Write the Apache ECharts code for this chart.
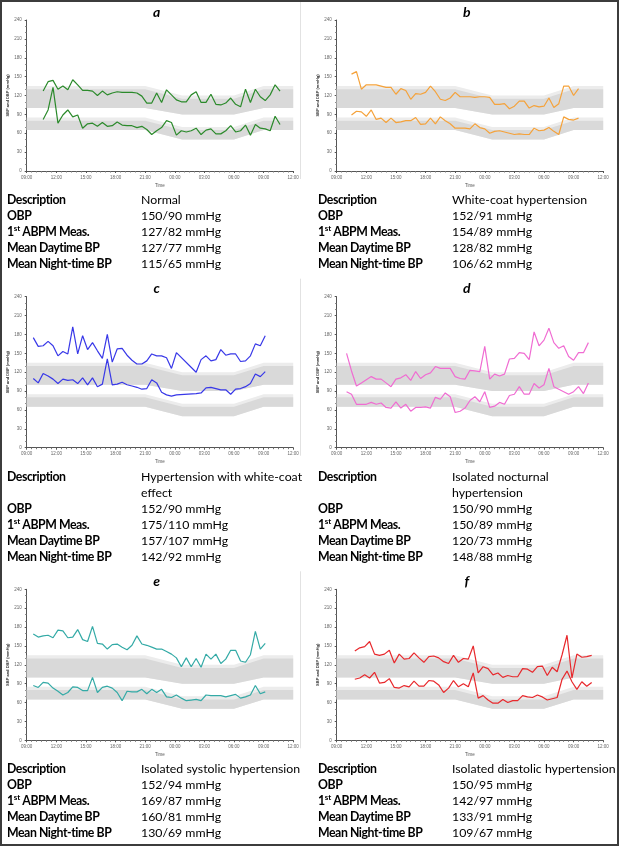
<!DOCTYPE html>
<html>
<head>
<meta charset="utf-8">
<script src="https://cdn.jsdelivr.net/npm/echarts@6/dist/echarts.min.js"></script>
<style>
  html, body { margin: 0; padding: 0; background: #fff; }
  #page { position: relative; width: 619px; height: 846px; overflow: hidden; font-family: Lato, 'Open Sans', sans-serif; }
  #chart { position: absolute; left: 0; top: 0; width: 619px; height: 846px; }
  #frame { position: absolute; left: 0; top: 0; width: 615px; height: 842px; border: 2px solid #3c3c3c; pointer-events: none; }
  .tbl { position: absolute; font-size: 12.3px; line-height: 16px; color: #000; }
  .tbl .r { display: flex; }
  .tbl .k { width: 134px; font-weight: bold; white-space: nowrap; letter-spacing: -0.45px; }
  .tbl .v { white-space: pre; }
  .tbl sup { font-size: 8px; line-height: 0; vertical-align: 5px; letter-spacing: 0; }
</style>
</head>
<body>
<div id="page">
  <div id="chart"></div>
  <div id="frame"></div>
</div>
<script>
// measurement times (30 min apart, rolling over midnight)
const aTimes = ['10:40','11:10','11:40','12:10','12:40','13:10','13:40','14:10','14:40','15:10',
  '15:40','16:10','16:40','17:10','17:40','18:10','18:40','19:10','19:40','20:10',
  '20:40','21:10','21:40','22:10','22:40','23:10','23:40','00:10','00:40','01:10',
  '01:40','02:10','02:40','03:10','03:40','04:10','04:40','05:10','05:40','06:10',
  '06:40','07:10','07:40','08:10','08:40','09:10','09:40','10:10','10:40'];
const aSys = [127,142,144,130,135,129,145,137,128,128,127,120,127,121,124,126,125,125,125,124,
  119,108,108,124,109,129,121,113,110,110,121,126,109,109,122,106,105,108,116,106,
  102,130,109,130,118,112,121,137,127];
const aDia = [82,97,133,76,89,97,86,89,68,75,76,71,77,71,72,78,73,72,72,69,
  71,66,58,64,69,80,77,57,64,62,64,68,58,65,67,59,59,64,72,62,
  64,73,57,74,68,67,64,87,74];

const bTimes = ['10:30','11:00','11:30','12:00','12:30','13:00','13:30','14:00','14:30','15:00',
  '15:30','16:00','16:30','17:00','17:30','18:00','18:30','19:00','19:30','20:00',
  '20:30','21:00','21:30','22:00','22:30','23:00','23:30','00:00','00:30','01:00',
  '01:30','02:00','02:30','03:00','03:30','04:00','04:30','05:00','05:30','06:00',
  '06:30','07:00','07:30','08:00','08:30','09:00','09:30'];
const bSys = [154,158,130,137,137,137,135,133,133,122,131,128,114,123,122,125,135,126,114,112,
  116,125,118,118,118,117,118,118,117,106,106,107,99,103,111,111,100,104,102,103,
  116,101,107,135,135,120,131];
const bDia = [89,95,94,87,97,82,84,77,84,77,78,80,80,85,74,75,84,75,86,80,
  75,68,68,68,67,75,69,67,60,63,64,62,60,58,59,58,58,68,64,65,
  69,63,58,86,82,81,84];

const cTimes = ['09:40','10:10','10:40','11:10','11:40','12:10','12:40','13:10','13:40','14:10',
  '14:40','15:10','15:40','16:10','16:40','17:10','17:40','18:10','18:40','19:10',
  '19:40','20:10','20:40','21:10','21:40','22:10','22:40','23:10','23:40','00:10',
  '02:10','02:40','03:10','03:40','04:10','04:40','05:10','05:40','06:10','06:40',
  '07:10','07:40','08:10','08:40','09:10'];
const cSys = [175,161,162,169,162,146,153,149,192,149,178,156,167,154,142,180,136,157,158,147,
  139,133,133,138,149,146,146,143,126,151,
  120,140,146,138,140,156,147,149,149,137,138,146,165,162,178];
const cDia = [110,103,118,114,109,102,109,107,108,102,111,100,111,97,101,141,100,101,104,100,
  98,96,93,94,108,103,88,84,82,84,
  86,87,95,96,94,92,92,85,93,94,97,102,117,113,121];

const dTimes = ['10:00','10:30','11:00','11:30','12:00','12:30','13:00','13:30','14:00','14:30',
  '15:00','15:30','16:00','16:30','17:00','17:30','18:00','18:30','19:00','19:30',
  '20:00','20:30','21:00','21:30','22:00','22:30','23:00','23:30','00:00','00:30',
  '01:00','01:30','02:00','02:30','03:00','03:30','04:00','04:30','05:00','05:30',
  '06:00','06:30','07:00','07:30','08:00','08:30','09:00','09:30','10:00','10:30'];
const dSys = [150,122,98,103,108,113,109,109,103,97,109,111,116,107,121,110,116,119,129,126,
  126,126,113,110,109,123,122,121,161,109,117,114,117,141,142,151,150,140,184,162,
  171,190,167,158,162,145,139,151,151,167];
const dDia = [89,85,69,69,69,72,69,71,64,63,73,63,69,58,64,64,65,63,80,77,
  87,81,56,58,63,75,81,73,89,64,66,72,69,83,85,97,85,85,102,95,
  100,126,97,93,89,85,89,97,86,103];

const eTimes = ['09:40','10:10','10:40','11:10','11:40','12:10','12:40','13:10','13:40','14:10',
  '14:40','15:10','15:40','16:10','16:40','17:10','17:40','18:10','18:40','19:10',
  '19:40','20:10','20:40','21:10','21:40','22:10','22:40','23:10','23:40','00:10',
  '00:40','01:10','01:40','02:10','02:40','03:10','03:40','04:10','04:40','05:10',
  '05:40','06:10','06:40','07:10','07:40','08:10','08:40','09:10'];
const eSys = [169,164,166,167,163,175,174,163,164,176,160,157,181,154,153,145,152,153,148,144,
  151,166,153,151,148,145,145,141,137,131,117,131,117,130,116,137,129,137,122,129,
  143,143,126,124,136,173,145,154];
const eDia = [87,84,92,91,83,78,72,76,85,84,79,79,100,76,84,86,83,76,63,78,
  77,77,81,74,81,76,81,69,68,72,67,63,64,65,63,72,71,71,71,69,
  71,73,67,69,72,87,74,77];

const fTimes = ['10:50','11:20','11:50','12:20','12:50','13:20','13:50','14:20','14:50','15:20',
  '15:50','16:20','16:50','17:20','17:50','18:20','18:50','19:20','19:50','20:20',
  '20:50','21:20','21:50','22:20','22:50','23:20','23:50','00:20','00:50','01:20',
  '01:50','02:20','02:50','03:20','03:50','04:20','04:50','05:20','05:50','06:20',
  '06:50','07:20','07:50','08:20','08:50','09:20','09:50','10:20','10:50'];
const fSys = [142,147,149,157,137,135,137,143,123,137,129,130,139,131,124,133,134,131,125,122,
  135,124,130,129,150,107,117,114,104,107,100,103,101,101,114,113,108,117,118,103,
  116,109,136,167,99,137,132,133,135];
const fDia = [97,99,104,99,108,91,92,98,84,83,87,85,94,86,86,95,94,88,76,83,
  95,85,90,85,107,67,71,64,59,59,65,60,63,63,71,69,68,72,69,64,
  66,68,97,110,93,81,93,86,92];

// reference bands (day / night limits)
const bandTimes = ['09:00','21:00','00:45','06:00','09:00','12:00'];
const sysLow = [100,100,90,90,100,100];
const sysHigh = [130,130,115,115,130,130];
const sysEdge = [135,135,120,120,135,135];
const diaLow = [65,65,50,50,65,65];
const diaHigh = [80,80,65,65,80,80];
const diaEdge = [85,85,70,70,85,85];

// table values
const letters = ['a','b','c','d','e','f'];
const descriptions = ['Normal','White-coat hypertension','Hypertension with white-coat\neffect',
  'Isolated nocturnal\nhypertension','Isolated systolic hypertension','Isolated diastolic hypertension'];
const obp = ['150/90','152/91','152/90','150/90','152/94','150/95'];
const firstMeas = ['127/82','154/89','175/110','150/89','169/87','142/97'];
const meanDay = ['127/77','128/82','157/107','120/73','160/81','133/91'];
const meanNight = ['115/65','106/62','142/92','148/88','130/69','109/67'];

const colors = ['#2b8a2b','#f5a23a','#3838e8','#f06cd2','#33aaa6','#e8282c'];
const panels = [
  [aTimes, aSys, aDia], [bTimes, bSys, bDia], [cTimes, cSys, cDia],
  [dTimes, dSys, dDia], [eTimes, eSys, eDia], [fTimes, fSys, fDia]
];

function toHours(list) {
  let prev = -1, day = 0;
  return list.map(s => {
    const [h, m] = s.split(':').map(Number);
    let t = h + m / 60 + day * 24;
    if (t < prev) { day++; t += 24; }
    prev = t;
    return t;
  });
}

const colX = [26.7, 336.7];
const rowY = [20, 296.7, 589.3];
const plotW = 266.5, plotH = 151;
const tblTop = [192, 469, 761];
const tblX = [7, 318];

const bandH = toHours(bandTimes);
const fmt = v => String(v % 24).padStart(2, '0') + ':00';

// filled band between two limit lines, drawn through the axis scales
function bandRender(color) {
  return function (params, api) {
    if (params.dataIndexInside !== 0) return;
    const n = params.dataInsideLength, top = [], bot = [];
    for (let k = 0; k < n; k++) {
      top.push(api.coord([api.value(0, k), api.value(2, k)]));
      bot.push(api.coord([api.value(0, k), api.value(1, k)]));
    }
    return { type: 'polygon', shape: { points: top.concat(bot.reverse()) }, style: { fill: color } };
  };
}

const grids = [], xAxes = [], yAxes = [], series = [], graphics = [];

panels.forEach((p, i) => {
  const col = i % 2, row = Math.floor(i / 2);
  grids.push({ left: colX[col], top: rowY[row], width: plotW, height: plotH });
  xAxes.push({
    gridIndex: i, type: 'value', min: 9, max: 36, interval: 3,
    name: 'Time', nameLocation: 'middle', nameGap: 12,
    nameTextStyle: { fontSize: 4.5, color: '#555' },
    axisLine: { lineStyle: { color: '#555', width: 1 } },
    axisTick: { length: 2, lineStyle: { color: '#555' } },
    minorTick: { show: true, splitNumber: 6, length: 1.5, lineStyle: { color: '#777' } },
    splitLine: { show: false },
    axisLabel: { fontSize: 4.5, color: '#666', margin: 4, formatter: fmt }
  });
  yAxes.push({
    gridIndex: i, type: 'value', min: 0, max: 240, interval: 30,
    name: 'SBP and DBP (mmHg)', nameLocation: 'middle', nameGap: 15, nameRotate: 90,
    nameTextStyle: { fontSize: 4, color: '#333', fontWeight: 'bold' },
    axisLine: { show: true, lineStyle: { color: '#555', width: 1 } },
    axisTick: { show: true, length: 2, lineStyle: { color: '#555' } },
    minorTick: { show: true, splitNumber: 3, length: 1.5, lineStyle: { color: '#777' } },
    splitLine: { show: false },
    axisLabel: { fontSize: 4.5, color: '#666', margin: 5 }
  });

  const addBand = (low, high, color) => {
    series.push({
      type: 'custom', xAxisIndex: i, yAxisIndex: i, silent: true, z: 1,
      encode: { x: 0, y: [1, 2] },
      data: bandH.map((t, k) => [t, low[k], high[k]]),
      renderItem: bandRender(color)
    });
  };
  addBand(sysLow, sysEdge, '#ececec');
  addBand(sysLow, sysHigh, '#d9d9d9');
  addBand(diaLow, diaEdge, '#ececec');
  addBand(diaLow, diaHigh, '#d9d9d9');

  const hrs = toHours(p[0]);
  [p[1], p[2]].forEach(vals => {
    series.push({
      type: 'line', xAxisIndex: i, yAxisIndex: i, symbol: 'none', z: 3,
      lineStyle: { width: 1.2, color: colors[i] },
      data: hrs.map((t, k) => [t, vals[k]])
    });
  });

  graphics.push({
    type: 'text', x: colX[col] + 130, y: rowY[row] - 8,
    style: { text: letters[i], font: 'italic bold 14px Lato', fill: '#000',
      align: 'center', verticalAlign: 'middle', textAlign: 'center', textVerticalAlign: 'middle' }
  });
  // faint right edge of the left-column plot images
  if (col === 0) {
    graphics.push({
      type: 'line', silent: true,
      shape: { x1: 300.5, y1: rowY[row] - 18, x2: 300.5, y2: rowY[row] + plotH + 8 },
      style: { stroke: '#e2e2e2', lineWidth: 1 }
    });
  }

  // description table below the plot
  const t = document.createElement('div');
  t.className = 'tbl';
  t.style.left = tblX[col] + 'px';
  t.style.top = tblTop[row] + 'px';
  const rows = [
    ['Description', descriptions[i]],
    ['OBP', obp[i] + ' mmHg'],
    ['1<sup>st</sup> ABPM Meas.', firstMeas[i] + ' mmHg'],
    ['Mean Daytime BP', meanDay[i] + ' mmHg'],
    ['Mean Night-time BP', meanNight[i] + ' mmHg']
  ];
  t.innerHTML = rows.map(r => '<div class="r"><div class="k">' + r[0] + '</div><div class="v">' +
    r[1] + '</div></div>').join('');
  document.getElementById('page').appendChild(t);
});

const chart = echarts.init(document.getElementById('chart'));
chart.setOption({
  animation: false,
  grid: grids,
  xAxis: xAxes,
  yAxis: yAxes,
  series: series,
  graphic: graphics
});
</script>
</body>
</html>
